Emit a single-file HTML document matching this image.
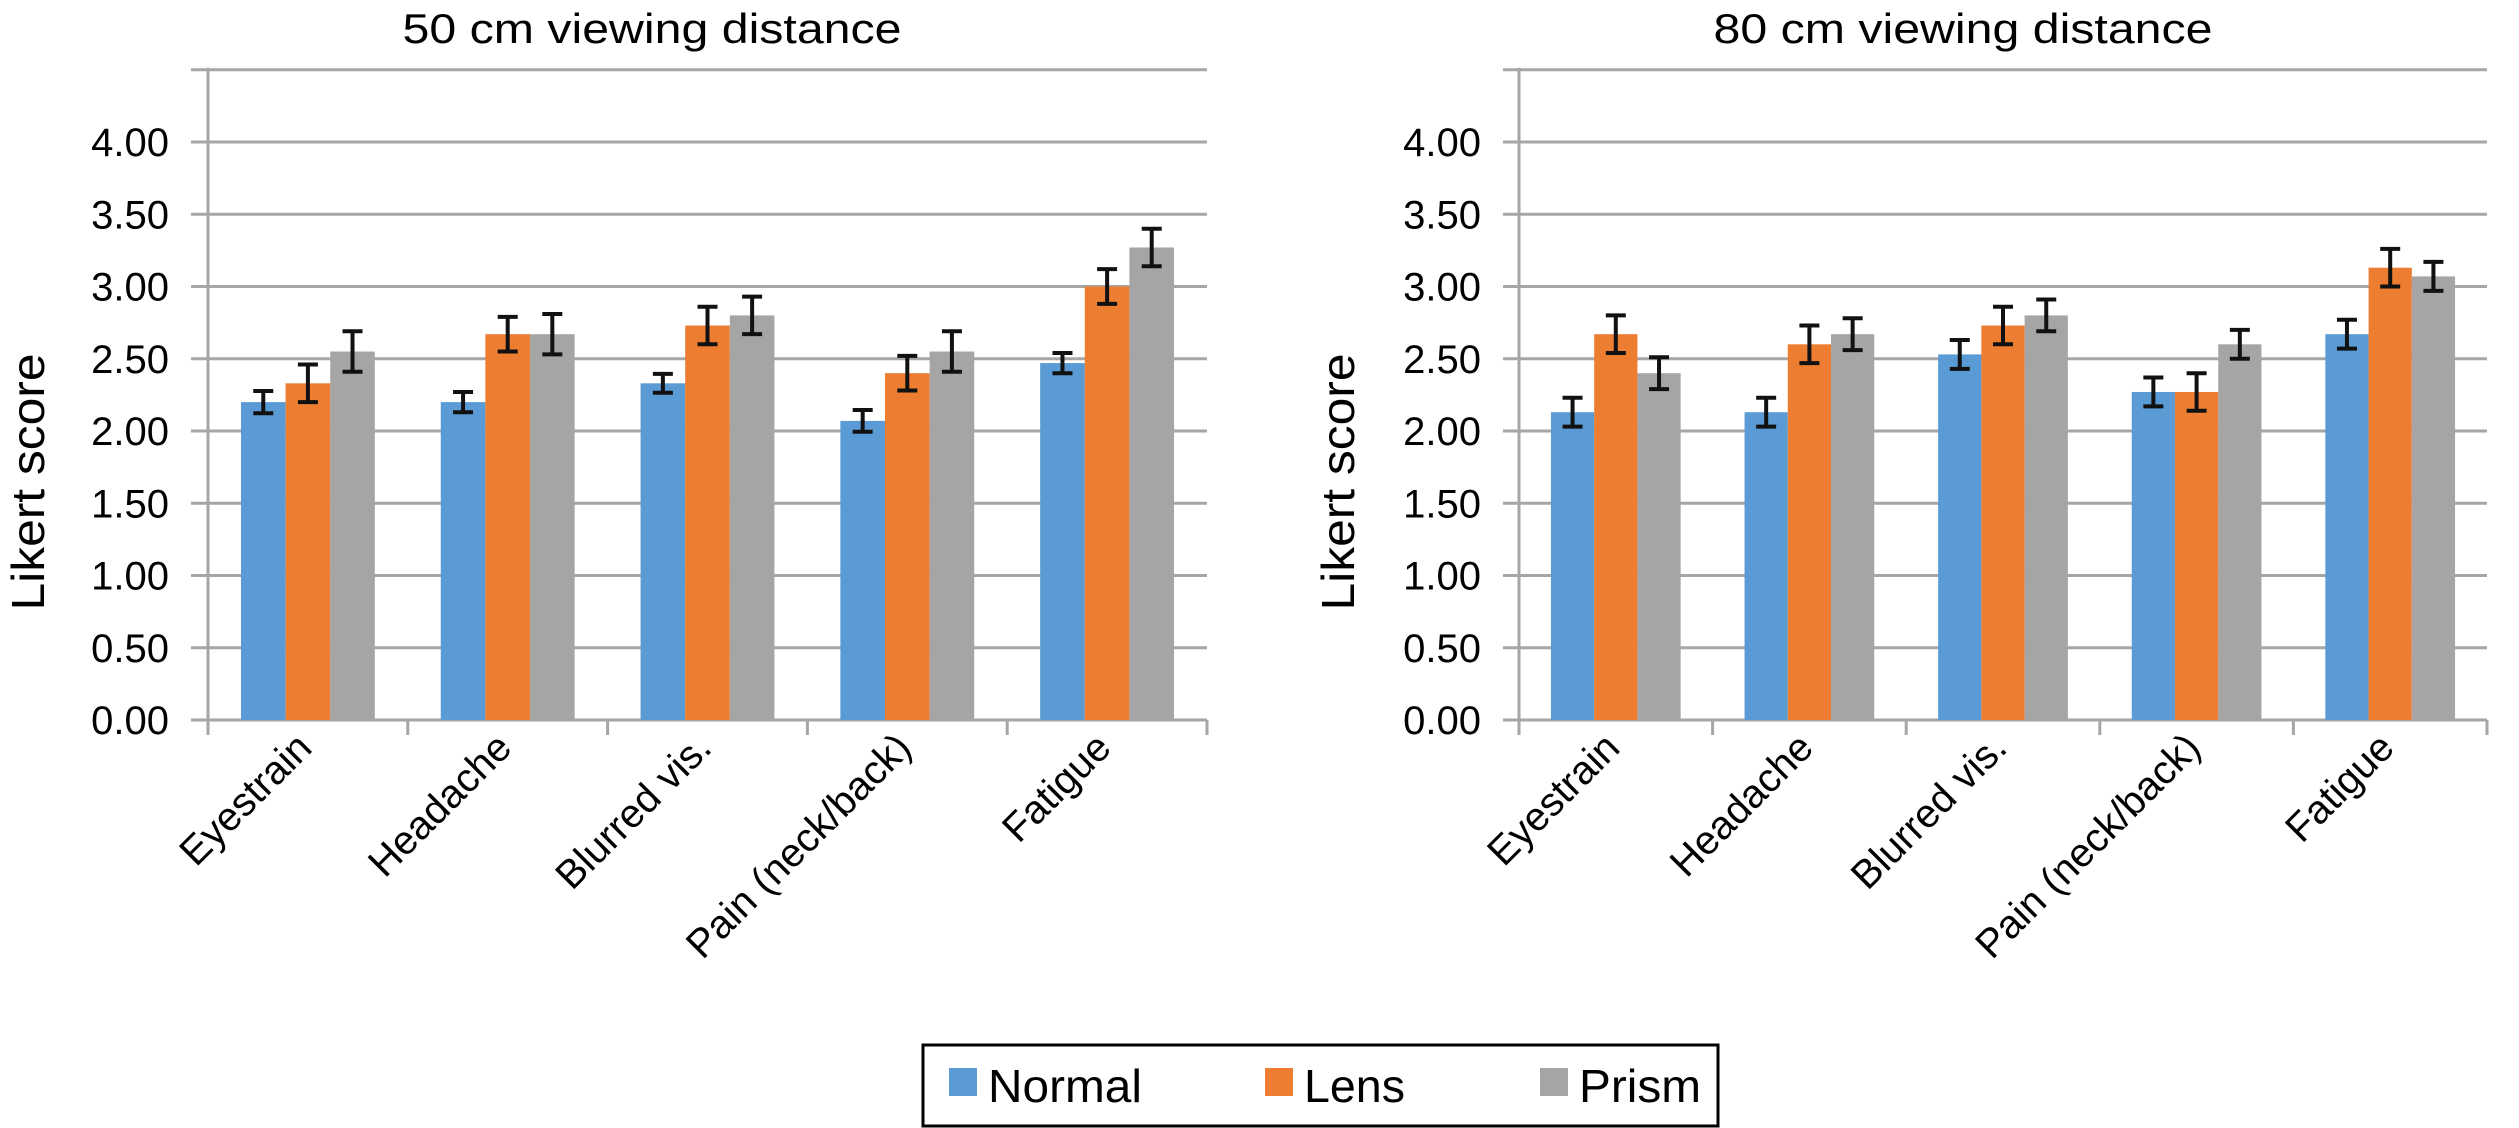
<!DOCTYPE html>
<html><head><meta charset="utf-8"><style>
html,body{margin:0;padding:0;background:#fff;}
svg{display:block;font-family:"Liberation Sans",Arial,sans-serif;}
</style></head><body>
<svg id="fig" width="2519" height="1128" viewBox="0 0 2519 1128" xmlns="http://www.w3.org/2000/svg"></svg>
<script>
const categories = ["Eyestrain","Headache","Blurred vis.","Pain (neck/back)","Fatigue"];
const seriesNames = ["Normal","Lens","Prism"];
const tickLabels = ["0.00","0.50","1.00","1.50","2.00","2.50","3.00","3.50","4.00"];
const normal50 = [2.20,2.20,2.33,2.07,2.47];
const lens50 = [2.33,2.67,2.73,2.40,3.00];
const prism50 = [2.55,2.67,2.80,2.55,3.27];
const normal50Err = [0.077,0.07,0.065,0.075,0.07];
const lens50Err = [0.13,0.12,0.13,0.12,0.12];
const prism50Err = [0.14,0.14,0.13,0.14,0.13];
const normal80 = [2.13,2.13,2.53,2.27,2.67];
const lens80 = [2.67,2.60,2.73,2.27,3.13];
const prism80 = [2.40,2.67,2.80,2.60,3.07];
const normal80Err = [0.10,0.10,0.10,0.10,0.10];
const lens80Err = [0.13,0.13,0.13,0.13,0.13];
const prism80Err = [0.11,0.11,0.11,0.10,0.10];
const titles = ["50 cm viewing distance","80 cm viewing distance"];

const NS="http://www.w3.org/2000/svg";
const svg=document.getElementById('fig');
const colors=["#5B9BD5","#ED7D31","#A5A5A5"];
function mk(tag,attrs,parent){const e=document.createElementNS(NS,tag);for(const k in attrs)e.setAttribute(k,attrs[k]);(parent||svg).appendChild(e);return e;}

function drawChart(idx,cfg,vals,errs){
  const g=mk('g',{});
  
  
  const y0=720, yPerUnit=144.5;
  const yS=v=>y0-v*yPerUnit;
  const catW=(cfg.right-cfg.axisX)/categories.length;
  const xS=i=>cfg.axisX+catW*(i+0.5);
  const t=mk('text',{x:cfg.titleX,y:43,'font-size':42,'text-anchor':'middle',fill:'#000',textLength:499,lengthAdjust:'spacingAndGlyphs'},g);
  t.textContent=titles[idx];
  
  
  for(let k=0;k<=9;k++){
    const v=k*0.5;
    const l=mk('line',{x1:cfg.gridStart,x2:cfg.right,y1:yS(v),y2:yS(v),stroke:'#A6A6A6','stroke-width':3},g);
    
    
  }
  tickLabels.forEach((lab,k)=>{
    const tx=mk('text',{x:cfg.labelRight,y:yS(parseFloat(lab))+14,'font-size':40,'text-anchor':'end',fill:'#000'},g);
    tx.textContent=lab;
    
    
  });
  const ax=mk('line',{x1:cfg.axisX,x2:cfg.axisX,y1:yS(4.5)-2,y2:y0+15,stroke:'#A6A6A6','stroke-width':3},g);
  
  
  for(let i=0;i<=categories.length;i++){
    const x=cfg.axisX+catW*i;
    const tk=mk('line',{x1:x,x2:x,y1:y0,y2:y0+15,stroke:'#A6A6A6','stroke-width':3},g);
    
    
  }
  const yt=mk('text',{x:0,y:0,'font-size':46,'text-anchor':'middle',fill:'#000',textLength:257,lengthAdjust:'spacingAndGlyphs',transform:`translate(${cfg.yTitleX},482) rotate(-90)`},g);
  yt.textContent='Likert score';
  
  
  const groupW=catW*0.67, barW=groupW/3;
  categories.forEach((c,i)=>{
    const gx=xS(i)-groupW/2;
    vals.forEach((arr,s)=>{
      const v=arr[i], x=gx+s*barW;
      const r=mk('rect',{x:x,y:yS(v),width:barW,height:y0-yS(v),fill:colors[s]},g);
      
      
      const e=errs[s][i], cx=x+barW/2;
      const eb=mk('path',{d:`M${cx},${yS(v+e)}V${yS(v-e)}M${cx-10},${yS(v+e)}H${cx+10}M${cx-10},${yS(v-e)}H${cx+10}`,stroke:'#111','stroke-width':4,fill:'none'},g);
      
      
    });
    const lx=xS(i)+6, ly=y0+30;
    const xl=mk('text',{x:0,y:0,'font-size':40,'text-anchor':'end',fill:'#000',transform:`translate(${lx},${ly}) rotate(-45)`},g);
    xl.textContent=c;
    
    
  });
}
drawChart(0,{axisX:208,gridStart:191,right:1207,labelRight:169,yTitleX:44,titleX:652},[normal50,lens50,prism50],[normal50Err,lens50Err,prism50Err]);
drawChart(1,{axisX:1519,gridStart:1503,right:2487,labelRight:1481,yTitleX:1354,titleX:1963},[normal80,lens80,prism80],[normal80Err,lens80Err,prism80Err]);

const lg=mk('g',{});


const box=mk('rect',{x:923,y:1045,width:795,height:81,fill:'#fff',stroke:'#000','stroke-width':3},lg);


const lx=[949,1265,1540];
const lw=[154,101,122];
seriesNames.forEach((n,s)=>{
  const sq=mk('rect',{x:lx[s],y:1068,width:28,height:28,fill:colors[s]},lg);
  
  
  const tx=mk('text',{x:lx[s]+39,y:1102,'font-size':46,fill:'#000',textLength:lw[s],lengthAdjust:'spacingAndGlyphs'},lg);
  tx.textContent=n;
  
  
});
</script>
</body></html>
